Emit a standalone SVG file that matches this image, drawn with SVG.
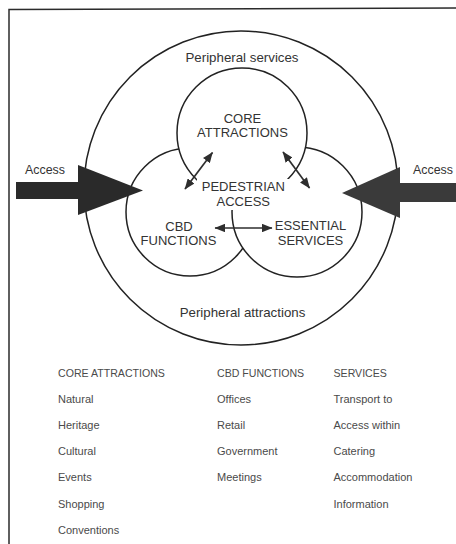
<svg xmlns="http://www.w3.org/2000/svg" width="456" height="544" viewBox="0 0 456 544">
  <style>
    .frame { fill: none; stroke: #2b2b2b; stroke-width: 1.5; }
    .ring { fill: #ffffff; stroke: #222222; stroke-width: 1.5; }
    .outer { fill: none; stroke: #222222; stroke-width: 1.5; }
    .lbl { font-family: "Liberation Sans", Arial, sans-serif; font-size: 13px; fill: #333333; text-anchor: middle; }
    .peri { font-family: "Liberation Sans", Arial, sans-serif; font-size: 13.3px; fill: #333333; text-anchor: middle; }
    .acc { font-family: "Liberation Sans", Arial, sans-serif; font-size: 12.4px; fill: #333333; }
    .hd { font-family: "Liberation Sans", Arial, sans-serif; font-size: 10.6px; fill: #4a4a4a; }
    .it { font-family: "Liberation Sans", Arial, sans-serif; font-size: 11px; fill: #4a4a4a; }
    .link { fill: none; stroke: #2e2e2e; stroke-width: 1.7; marker-start: url(#tip); marker-end: url(#tip); }
    .big { fill: #2a2a2a; }
  </style>
  <defs>
    <marker id="tip" viewBox="0 0 10 8" refX="9.5" refY="4" markerWidth="11" markerHeight="8.5" markerUnits="userSpaceOnUse" orient="auto-start-reverse">
      <path d="M0,0 L10,4 L0,8 z" fill="#2e2e2e"/>
    </marker>
  </defs>

  <rect width="456" height="544" fill="#ffffff"/>

  <!-- page frame -->
  <path class="frame" d="M9,544 L9,9.5 L456,8"/>

  <!-- outer ring: peripheral zone -->
  <g id="peripheral">
    <circle class="outer" cx="241" cy="188" r="157"/>
    <text class="peri" x="242" y="61.5">Peripheral services</text>
    <text class="peri" x="242.5" y="316.5">Peripheral attractions</text>
  </g>

  <!-- CBD functions circle -->
  <g id="cbd-functions">
    <circle class="ring" cx="190" cy="212" r="64"/>
    <text class="lbl" x="179" y="230.5">CBD</text>
    <text class="lbl" x="178.5" y="245">FUNCTIONS</text>
  </g>

  <!-- essential services circle -->
  <g id="essential-services">
    <circle class="ring" cx="297" cy="212" r="65"/>
    <text class="lbl" x="310.5" y="230">ESSENTIAL</text>
    <text class="lbl" x="310.5" y="244.5">SERVICES</text>
  </g>

  <!-- core attractions circle -->
  <g id="core-attractions">
    <circle class="ring" cx="242" cy="133" r="65"/>
    <text class="lbl" x="242.5" y="122.5">CORE</text>
    <text class="lbl" x="242.5" y="136.5">ATTRACTIONS</text>
  </g>

  <!-- pedestrian access hub -->
  <g id="pedestrian-access">
    <rect x="197" y="179" width="94" height="31" fill="#ffffff"/>
    <text class="lbl" x="243.3" y="191">PEDESTRIAN</text>
    <text class="lbl" x="243.3" y="206">ACCESS</text>
  </g>

  <!-- connectors -->
  <g id="connectors">
    <line class="link" x1="212.5" y1="152.5" x2="185" y2="189"/>
    <line class="link" x1="283" y1="152" x2="309.5" y2="188"/>
    <line class="link" x1="215" y1="228" x2="272" y2="228"/>
    <!-- access from outside -->
    <g id="access-left">
      <rect class="big" x="16" y="182" width="64" height="17"/>
      <path class="big" d="M78,165 L143,190.5 L78,215 z"/>
      <text class="acc" x="25" y="174">Access</text>
    </g>
    <g id="access-right">
      <rect x="398" y="183" width="58" height="19" fill="#3a3a3a"/>
      <path d="M400,167 L342,193 L400,218 z" fill="#3a3a3a"/>
      <text class="acc" x="413" y="174">Access</text>
    </g>
  </g>

  <!-- legend lists -->
  <g id="legend-core">
    <text class="hd" x="58" y="376.5">CORE ATTRACTIONS</text>
    <text class="it" x="58" y="402.5">Natural</text>
    <text class="it" x="58" y="428.8">Heritage</text>
    <text class="it" x="58" y="455">Cultural</text>
    <text class="it" x="58" y="481.3">Events</text>
    <text class="it" x="58" y="507.6">Shopping</text>
    <text class="it" x="58" y="534">Conventions</text>
  </g>
  <g id="legend-cbd">
    <text class="hd" x="217" y="376.5">CBD FUNCTIONS</text>
    <text class="it" x="217" y="402.5">Offices</text>
    <text class="it" x="217" y="428.8">Retail</text>
    <text class="it" x="217" y="455">Government</text>
    <text class="it" x="217" y="481.3">Meetings</text>
  </g>
  <g id="legend-services">
    <text class="hd" x="333.5" y="376.5">SERVICES</text>
    <text class="it" x="333.5" y="402.5">Transport to</text>
    <text class="it" x="333.5" y="428.8">Access within</text>
    <text class="it" x="333.5" y="455">Catering</text>
    <text class="it" x="333.5" y="481.3">Accommodation</text>
    <text class="it" x="333.5" y="507.6">Information</text>
  </g>
</svg>
